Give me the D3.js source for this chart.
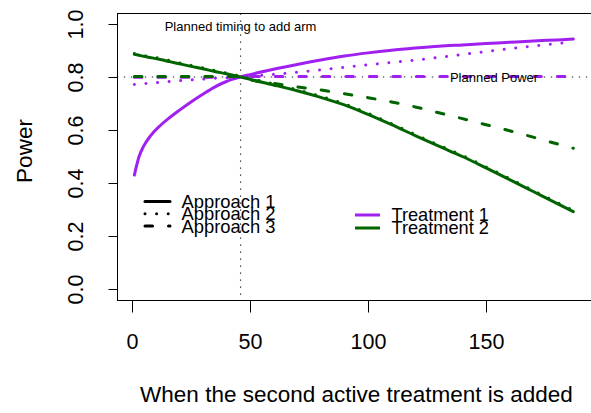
<!DOCTYPE html>
<html>
<head>
<meta charset="utf-8">
<script src="https://cdn.jsdelivr.net/npm/d3@7"></script>
<style>
  html, body { margin: 0; padding: 0; background: #fff; }
  svg { display: block; font-family: "Liberation Sans", Arial, Helvetica, sans-serif; }
</style>
</head>
<body>
<svg id="chart" width="591" height="413"></svg>
<script>
// Time point at which the second arm enters the trial
const timePoints = [1, 3, 5, 8, 12, 16, 20, 25, 30, 35, 40, 46, 50, 60, 70, 80, 90, 100, 110, 120, 130, 140, 150, 160, 170, 180, 187];

// Power for treatment 1 under the three approaches
const trt1Approach1 = [0.430, 0.500, 0.540, 0.580, 0.617, 0.647, 0.674, 0.706, 0.735, 0.762, 0.783, 0.800, 0.809, 0.829, 0.847, 0.864, 0.879, 0.891, 0.901, 0.909, 0.916, 0.921, 0.926, 0.931, 0.936, 0.940, 0.943];
const trt1Approach2 = [0.772, 0.773, 0.775, 0.777, 0.780, 0.783, 0.786, 0.789, 0.792, 0.795, 0.797, 0.800, 0.803, 0.810, 0.818, 0.827, 0.837, 0.846, 0.855, 0.864, 0.874, 0.885, 0.896, 0.907, 0.917, 0.926, 0.932];
const trt1Approach3 = [0.799, 0.799, 0.799, 0.799, 0.799, 0.799, 0.799, 0.799, 0.799, 0.799, 0.799, 0.801, 0.802, 0.802, 0.802, 0.802, 0.802, 0.802, 0.802, 0.802, 0.802, 0.802, 0.802, 0.802, 0.802, 0.802, 0.802];

// Power for treatment 2 under the three approaches
const trt2Approach1 = [0.886, 0.882, 0.878, 0.873, 0.866, 0.858, 0.850, 0.840, 0.831, 0.821, 0.812, 0.800, 0.791, 0.770, 0.748, 0.723, 0.695, 0.659, 0.620, 0.579, 0.539, 0.500, 0.457, 0.413, 0.368, 0.323, 0.292];
const trt2Approach2 = [0.889, 0.886, 0.881, 0.877, 0.870, 0.862, 0.853, 0.844, 0.835, 0.825, 0.815, 0.803, 0.795, 0.774, 0.752, 0.727, 0.699, 0.663, 0.624, 0.583, 0.543, 0.504, 0.461, 0.417, 0.372, 0.327, 0.296];
const trt2Approach3 = [0.802, 0.802, 0.802, 0.802, 0.802, 0.802, 0.802, 0.802, 0.802, 0.802, 0.802, 0.800, 0.790, 0.776, 0.763, 0.751, 0.737, 0.722, 0.706, 0.687, 0.665, 0.643, 0.620, 0.597, 0.573, 0.548, 0.531];

// Axis ticks, reference lines and labels
const xTicks = [0, 50, 100, 150];
const yTicks = [0, 0.2, 0.4, 0.6, 0.8, 1.0];
const plannedPower = 0.8;
const plannedTiming = 46;
const approachLabels = ["Approach 1", "Approach 2", "Approach 3"];
const treatmentLabels = ["Treatment 1", "Treatment 2"];

const purple = "#A020F0";
const green = "#006400";

const svg = d3.select("#chart");
const x = d3.scaleLinear().domain([0, 150]).range([132, 486]);
const y = d3.scaleLinear().domain([0, 1]).range([289, 24]);

// plot region: data range padded by 4% as in base graphics
const xLo = x(1 - 0.04 * 186), xHi = x(187 + 0.04 * 186) + 1.5;
const yTop = y(1.04), yBot = y(-0.04);

const dashStyles = {
  solid: null,
  dotted: "0.01 11.6",
  dashed: "7.5 16"
};

const series = [
  { v: trt1Approach1, color: purple, lty: "solid" },
  { v: trt1Approach2, color: purple, lty: "dotted" },
  { v: trt1Approach3, color: purple, lty: "dashed" },
  { v: trt2Approach1, color: green, lty: "solid" },
  { v: trt2Approach2, color: green, lty: "dotted" },
  { v: trt2Approach3, color: green, lty: "dashed" }
];

const line = d3.line()
  .x((d, i) => x(timePoints[i]))
  .y(d => y(d))
  .curve(d3.curveMonotoneX);

// reference lines
svg.append("line")
  .attr("x1", xLo).attr("x2", xHi)
  .attr("y1", y(plannedPower)).attr("y2", y(plannedPower))
  .attr("stroke", "#222").attr("stroke-width", 1.2)
  .attr("stroke-dasharray", "1.4 5.6");
svg.append("line")
  .attr("x1", x(plannedTiming)).attr("x2", x(plannedTiming))
  .attr("y1", yTop).attr("y2", yBot)
  .attr("stroke", "#222").attr("stroke-width", 1.2)
  .attr("stroke-dasharray", "1.4 5.6");

// power curves
svg.append("g").selectAll("path")
  .data(series)
  .join("path")
  .attr("d", s => line(s.v))
  .attr("fill", "none")
  .attr("stroke", s => s.color)
  .attr("stroke-width", 3)
  .attr("stroke-linecap", "round")
  .attr("stroke-linejoin", "round")
  .attr("stroke-dasharray", s => dashStyles[s.lty]);

// annotations
svg.append("text")
  .attr("x", x(plannedTiming)).attr("y", 31)
  .attr("text-anchor", "middle")
  .attr("font-size", 13)
  .text("Planned timing to add arm");
svg.append("text")
  .attr("x", x(153.4)).attr("y", y(plannedPower))
  .attr("dy", "0.35em")
  .attr("text-anchor", "middle")
  .attr("font-size", 13)
  .text("Planned Power");

// box
svg.append("rect")
  .attr("x", Math.round(xLo) + 0.5).attr("y", Math.round(yTop) + 0.5)
  .attr("width", xHi - xLo + 2).attr("height", Math.round(yBot) - Math.round(yTop))
  .attr("fill", "none").attr("stroke", "#000").attr("stroke-width", 1);

// x axis
const gx = svg.append("g")
  .attr("transform", `translate(0,${Math.round(yBot) + 0.5})`)
  .call(d3.axisBottom(x).tickValues(xTicks).tickSize(12).tickFormat(d3.format("d")));
gx.select(".domain").remove();
gx.selectAll(".tick line").attr("stroke", "#000");
gx.selectAll(".tick text")
  .attr("y", 48.5).attr("dy", 0)
  .attr("font-size", 21.5).attr("font-family", null).attr("fill", "#000");

// y axis
const gy = svg.append("g")
  .attr("transform", `translate(${Math.round(xLo) + 0.5},0)`)
  .call(d3.axisLeft(y).tickValues(yTicks).tickSize(9).tickFormat(d3.format(".1f")));
gy.select(".domain").remove();
gy.selectAll(".tick line").attr("stroke", "#000");
gy.selectAll(".tick text")
  .attr("transform", "rotate(-90)")
  .attr("x", 0).attr("y", -35).attr("dy", 0)
  .attr("text-anchor", "middle")
  .attr("font-size", 21.5).attr("font-family", null).attr("fill", "#000");

// axis titles
svg.append("text")
  .attr("x", 356.5).attr("y", 402)
  .attr("text-anchor", "middle")
  .attr("font-size", 22.5)
  .text("When the second active treatment is added");
svg.append("text")
  .attr("transform", "translate(31.5,151) rotate(-90)")
  .attr("text-anchor", "middle")
  .attr("font-size", 22.5)
  .text("Power");

// legends
const legA = svg.append("g");
const approachRows = approachLabels.map((t, i) => ({ t, lty: ["solid", "dotted", "dashed"][i], yy: 201.5 + i * 12.3 }));
legA.selectAll("line").data(approachRows).join("line")
  .attr("x1", 145).attr("x2", 170)
  .attr("y1", d => d.yy).attr("y2", d => d.yy)
  .attr("stroke", "#000").attr("stroke-width", 3)
  .attr("stroke-linecap", "round")
  .attr("stroke-dasharray", d => dashStyles[d.lty]);
legA.selectAll("text").data(approachRows).join("text")
  .attr("x", 181.5).attr("y", d => d.yy).attr("dy", "0.35em")
  .attr("font-size", 18.4)
  .text(d => d.t);

const legT = svg.append("g");
const treatRows = treatmentLabels.map((t, i) => ({ t, color: [purple, green][i], yy: 215 + i * 13 }));
legT.selectAll("line").data(treatRows).join("line")
  .attr("x1", 355).attr("x2", 380)
  .attr("y1", d => d.yy).attr("y2", d => d.yy)
  .attr("stroke", d => d.color).attr("stroke-width", 3);
legT.selectAll("text").data(treatRows).join("text")
  .attr("x", 391.5).attr("y", d => d.yy).attr("dy", "0.35em")
  .attr("font-size", 18.2)
  .text(d => d.t);
</script>
</body>
</html>
